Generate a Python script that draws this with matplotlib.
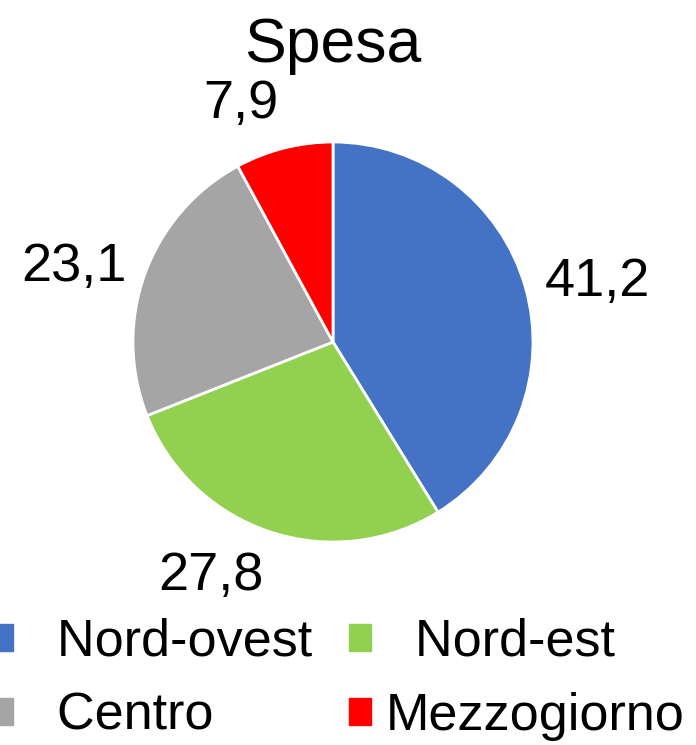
import numpy as np
import matplotlib
matplotlib.use("Agg")
import matplotlib.pyplot as plt

plt.rcParams['font.family'] = ['Liberation Sans', 'DejaVu Sans']

categories = ['Nord-ovest', 'Nord-est', 'Centro', 'Mezzogiorno']
values = [41.2, 27.8, 23.1, 7.9]
value_labels = ['41,2', '27,8', '23,1', '7,9']
colors = ['#4472C4', '#92D050', '#A5A5A5', '#FF0000']

my_dpi = 100
fig = plt.figure(figsize=(696/my_dpi, 745/my_dpi), dpi=my_dpi)
ax = fig.add_axes([133/696, 203/745, 400/696, 400/745])

wedges, _ = ax.pie(values, colors=colors, startangle=90, counterclock=False,
                   wedgeprops=dict(edgecolor='white', linewidth=2))
ax.set_xlim(-1, 1)
ax.set_ylim(-1, 1)

# data labels just outside each slice, aligned like excel does
for w, lab in zip(wedges, value_labels):
    mid = np.deg2rad((w.theta1 + w.theta2) / 2)
    c, s = np.cos(mid), np.sin(mid)
    ha = 'left' if c > 0 else 'right'
    va = 'center'
    if abs(s) > 0.8:
        va = 'bottom' if s > 0 else 'top'
    ax.text(1.1*c, 1.1*s, lab, ha=ha, va=va, fontsize=39)

fig.text(333/696, 1 - 62/745, 'Spesa', ha='center', va='baseline', fontsize=45)

order = [0, 2, 1, 3]  # legend filled by row
handles = [plt.Rectangle((0, 0), 1, 1, color=colors[i]) for i in order]
leg_labels = ['  ' + categories[0], '  ' + categories[2],
              '  ' + categories[1], categories[3]]
fig.legend(handles, leg_labels, ncol=2, fontsize=37.5,
           frameon=False, loc='upper left', bbox_to_anchor=(-9/696, 1 - 618/745),
           borderpad=0, borderaxespad=0, handlelength=0.42, handleheight=0.42,
           handletextpad=0.29, columnspacing=0.7, labelspacing=0.48)

fig.savefig('out.png', dpi=my_dpi)
